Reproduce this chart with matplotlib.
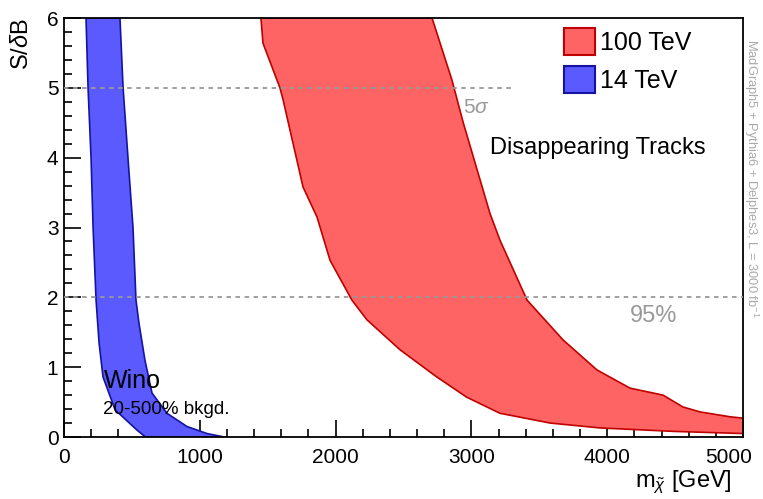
import matplotlib.pyplot as plt
from matplotlib.patches import Patch
from matplotlib.ticker import MultipleLocator
from matplotlib.transforms import ScaledTranslation

plt.rcParams['font.family'] = ['Liberation Sans', 'DejaVu Sans']
plt.rcParams['mathtext.fontset'] = 'custom'
plt.rcParams['mathtext.rm'] = 'Liberation Sans'
plt.rcParams['mathtext.it'] = 'Liberation Sans:italic'

# 100 TeV band: lower edge (500% bkgd) and upper edge (20% bkgd)
red_lo_m = [1450, 1465, 1590, 1613, 1760, 1863, 1959, 2120, 2230, 2474, 2745, 2966, 3210, 3580, 3947, 4500, 5000]
red_lo_s = [6.0, 5.64, 5.0, 4.83, 3.58, 3.15, 2.53, 1.96, 1.68, 1.25, 0.86, 0.57, 0.34, 0.2, 0.13, 0.08, 0.05]
red_hi_m = [2710, 2857, 2940, 3137, 3210, 3410, 3675, 3925, 4168, 4411, 4558, 4683, 4904, 5000]
red_hi_s = [6.0, 5.11, 4.5, 3.2, 2.82, 1.96, 1.39, 0.96, 0.70, 0.60, 0.43, 0.36, 0.29, 0.27]

# 14 TeV band
blue_lo_m = [162, 177, 199, 214, 236, 258, 287, 376, 537, 600]
blue_lo_s = [6.0, 5.0, 4.0, 3.0, 1.96, 1.35, 0.86, 0.39, 0.1, 0.0]
blue_hi_m = [412, 435, 471, 508, 530, 552, 596, 648, 758, 906, 1053, 1180]
blue_hi_s = [6.0, 5.0, 4.0, 3.0, 1.96, 1.63, 1.1, 0.63, 0.34, 0.15, 0.05, 0.0]

red_fill, red_edge = '#ff6464', '#c00000'
blue_fill, blue_edge = '#5a5aff', '#1414a0'

fig = plt.figure(figsize=(7.63, 4.99), dpi=100)
ax = fig.add_axes([0.0839, 0.1242, 0.8899, 0.8397])

red_x = red_lo_m + red_hi_m[::-1]
red_y = red_lo_s + red_hi_s[::-1]
ax.fill(red_x, red_y, facecolor=red_fill, edgecolor=red_edge, lw=1.2, zorder=2)
blue_x = blue_lo_m + blue_hi_m[::-1]
blue_y = blue_lo_s + blue_hi_s[::-1]
ax.fill(blue_x, blue_y, facecolor=blue_fill, edgecolor=blue_edge, lw=1.2, zorder=2)

ax.plot([0, 3290], [5, 5], color='#999999', ls=(0, (2.5, 2.5)), lw=1.3, zorder=3)
ax.plot([0, 5000], [2, 2], color='#999999', ls=(0, (2.5, 2.5)), lw=1.3, zorder=3)
ax.text(2940, 4.72, r'5$\sigma$', color='#999999', fontsize=15, ha='left', va='center')
ax.text(4170, 1.73, '95%', color='#999999', fontsize=17, ha='left', va='center')

ax.set_xlim(0, 5000)
ax.set_ylim(0, 6)
ax.xaxis.set_major_locator(MultipleLocator(1000))
ax.xaxis.set_minor_locator(MultipleLocator(200))
ax.yaxis.set_major_locator(MultipleLocator(1))
ax.yaxis.set_minor_locator(MultipleLocator(0.2))
ax.tick_params(which='both', direction='in', top=False, right=False, labelsize=15, width=1.2)
ax.tick_params(which='major', length=12)
ax.tick_params(which='minor', length=6)
ax.tick_params(axis='x', pad=8)
ax.tick_params(axis='y', pad=4)
for s in ax.spines.values():
    s.set_linewidth(1.3)

ax.set_ylabel(r'S/$\delta$B', fontsize=17, loc='top')
ax.yaxis.set_label_coords(-0.045, 1.0)
ax.set_xlabel(r'm$_{\tilde{\chi}}$ [GeV]', fontsize=17, loc='right')
ax.xaxis.set_label_coords(0.984, -0.075)

handles = [Patch(facecolor=red_fill, edgecolor=red_edge, lw=1.5),
           Patch(facecolor=blue_fill, edgecolor=blue_edge, lw=1.5)]
ax.legend(handles, ['100 TeV', '14 TeV'], loc='upper left', bbox_to_anchor=(0.736, 0.975),
          frameon=False, fontsize=18, handlelength=1.24, handleheight=1.28,
          handletextpad=0.2, labelspacing=0.42, borderpad=0, borderaxespad=0)

ax.text(3135, 4.14, 'Disappearing Tracks', fontsize=17, ha='left', va='center')
ax.text(290, 0.80, 'Wino', fontsize=18, ha='left', va='center')
ax.text(290, 0.40, '20-500% bkgd.', fontsize=13.5, ha='left', va='center')

fig.text(0.984, 0.643, r'MadGraph5 + Pythia6 + Delphes3, L = 3000 fb$^{-1}$',
         rotation=-90, fontsize=9.3, color='#aaaaaa', ha='center', va='center')

# last x tick label sits inside the figure, like ROOT does it
fig.canvas.draw()
last = ax.xaxis.get_major_ticks()[-1].label1
for t in ax.xaxis.get_major_ticks():
    if abs(t.get_loc() - 5000) < 1:
        last = t.label1
last.set_transform(last.get_transform() + ScaledTranslation(-0.14, 0, fig.dpi_scale_trans))

fig.savefig('out.png', dpi=100)
